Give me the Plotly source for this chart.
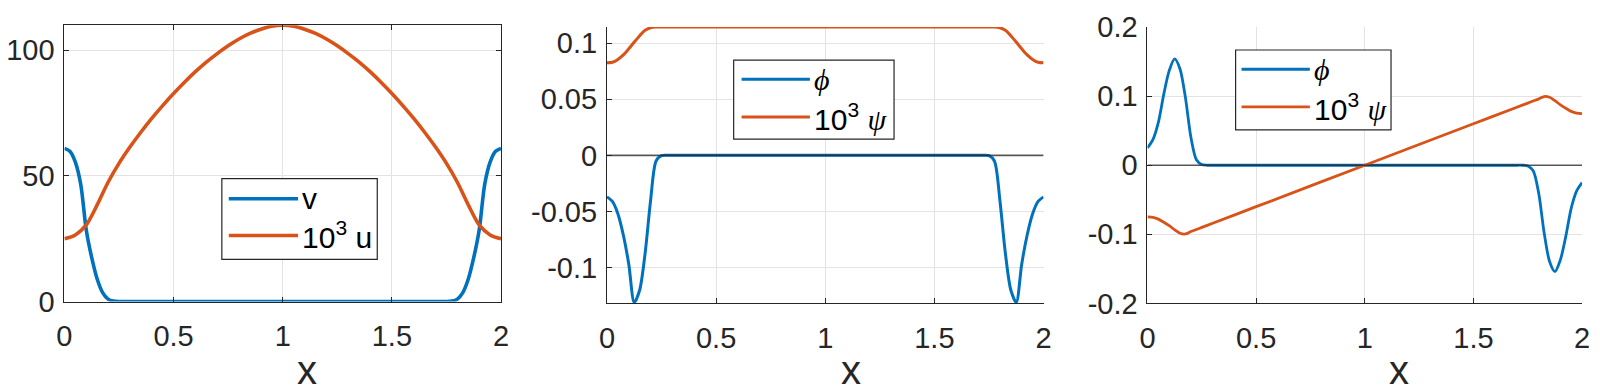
import plotly.graph_objects as go

W, H = 1600, 392

# ---------------- data ----------------
x_ticks = [0, 0.5, 1, 1.5, 2]
x_tick_labels = ["0", "0.5", "1", "1.5", "2"]

# panel 1 : v
x1v = [0, 0.025, 0.05, 0.075, 0.1, 0.125, 0.15, 0.175, 0.2, 0.225, 0.25, 0.275, 0.3,
       0.5, 1.0, 1.5,
       1.7, 1.725, 1.75, 1.775, 1.8, 1.825, 1.85, 1.875, 1.9, 1.925, 1.95, 1.975, 2.0]
v1 = [61, 59.8, 55.5, 46.5, 28.5, 17.5, 9, 3.6, 1.0, 0.2, 0, 0, 0,
      0, 0, 0,
      0, 0, 0, 0.2, 1.0, 3.6, 9, 17.5, 28.5, 46.5, 55.5, 59.8, 61]
# panel 1 : 10^3 u
x1u = [0, 0.05, 0.1, 0.15, 0.2, 0.25, 0.3, 0.35, 0.4, 0.45, 0.5, 0.55, 0.6, 0.65, 0.7,
       0.75, 0.8, 0.85, 0.9, 0.95, 1.0, 1.05, 1.1, 1.15, 1.2, 1.25, 1.3, 1.35, 1.4, 1.45,
       1.5, 1.55, 1.6, 1.65, 1.7, 1.75, 1.8, 1.85, 1.9, 1.95, 2.0]
u1 = [25, 26.5, 30.5, 38.5, 47.5, 55, 61.5, 67.4, 72.9, 78.0, 82.8, 87.3, 91.5, 95.3, 98.7,
      101.8, 104.5, 106.7, 108.4, 109.6, 110, 109.6, 108.4, 106.7, 104.5, 101.8, 98.7, 95.3,
      91.5, 87.3, 82.8, 78.0, 72.9, 67.4, 61.5, 55, 47.5, 38.5, 30.5, 26.5, 25]
y1_ticks = [0, 50, 100]
y1_tick_labels = ["0", "50", "100"]

# panel 2
x2 = [0, 0.025, 0.05, 0.075, 0.1, 0.125, 0.15, 0.175, 0.2, 0.225, 0.25, 0.275, 0.3,
      0.5, 1.0, 1.5,
      1.7, 1.725, 1.75, 1.775, 1.8, 1.825, 1.85, 1.875, 1.9, 1.925, 1.95, 1.975, 2.0]
phi2 = [-0.037, -0.041, -0.052, -0.071, -0.097, -0.131, -0.120, -0.087, -0.040, -0.005, -0.0003, 0, 0,
        0, 0, 0,
        0, 0, -0.0003, -0.005, -0.040, -0.087, -0.120, -0.131, -0.097, -0.071, -0.052, -0.041, -0.037]
psi2 = [0.0825, 0.083, 0.0855, 0.0895, 0.095, 0.101, 0.1067, 0.1115, 0.1138, 0.1144, 0.1144, 0.1144, 0.1144,
        0.1144, 0.1144, 0.1144,
        0.1144, 0.1144, 0.1144, 0.1144, 0.1138, 0.1115, 0.1067, 0.101, 0.095, 0.0895, 0.0855, 0.083, 0.0825]
y2_ticks = [-0.1, -0.05, 0, 0.05, 0.1]
y2_tick_labels = ["-0.1", "-0.05", "0", "0.05", "0.1"]

# panel 3
x3 = [0, 0.025, 0.05, 0.075, 0.1, 0.125, 0.15, 0.175, 0.2, 0.225, 0.25, 0.275, 0.3,
      0.5, 1.0, 1.5,
      1.7, 1.725, 1.75, 1.775, 1.8, 1.825, 1.85, 1.875, 1.9, 1.925, 1.95, 1.975, 2.0]
phi3 = [0.025, 0.037, 0.062, 0.103, 0.137, 0.154, 0.139, 0.097, 0.040, 0.008, 0.001, 0, 0,
        0, 0, 0,
        0, 0, -0.001, -0.008, -0.040, -0.097, -0.139, -0.154, -0.137, -0.103, -0.062, -0.037, -0.025]
psi3 = [-0.0747, -0.0755, -0.078, -0.0825, -0.0875, -0.0935, -0.0985, -0.0995, -0.096, -0.093,
        -0.09, -0.087, -0.084,
        -0.06, 0.0, 0.06,
        0.084, 0.087, 0.09, 0.093, 0.096, 0.0995, 0.0985, 0.0935, 0.0875, 0.0825, 0.078, 0.0755, 0.0747]
y3_ticks = [-0.2, -0.1, 0, 0.1, 0.2]
y3_tick_labels = ["-0.2", "-0.1", "0", "0.1", "0.2"]

BLUE = "#0072BD"
ORANGE = "#D95319"
AX = "#262626"
GRID = "#e3e3e3"
FONT = "Liberation Sans, Arial, sans-serif"
SERIF = "Liberation Serif"

# ---------------- layout helpers (pixel -> paper) ----------------
def px(x):
    return x / W

def py(y):
    return 1 - y / H

panels = [
    dict(x0=57, x1=498, y0=10, y1=311, yr=[0, 110], yt=y1_ticks, ytl=y1_tick_labels, mirror=True),
    dict(x0=605, x1=1046, y0=12, y1=313, yr=[-0.132, 0.1144], yt=y2_ticks, ytl=y2_tick_labels, mirror=False),
    dict(x0=1151, x1=1590, y0=12, y1=313, yr=[-0.2001, 0.2001], yt=y3_ticks, ytl=y3_tick_labels, mirror=False),
]

fig = go.Figure()

series = [
    (1, x1v, v1, "v", BLUE, 3.6),
    (1, x1u, u1, "10³ u", ORANGE, 3.6),
    (2, x2, phi2, "ϕ", BLUE, 3.0),
    (2, x2, psi2, "10³ ψ", ORANGE, 3.0),
    (3, x3, phi3, "ϕ", BLUE, 2.8),
    (3, x3, psi3, "10³ ψ", ORANGE, 2.8),
]
for k, xs, ys, name, col, lw in series:
    sfx = "" if k == 1 else str(k)
    fig.add_trace(go.Scatter(
        x=xs, y=ys, mode="lines", name=name, showlegend=False,
        line=dict(color=col, width=lw, shape="spline", smoothing=0.8),
        xaxis="x" + sfx, yaxis="y" + sfx, hoverinfo="skip"))

layout = dict(
    width=W, height=H, autosize=False,
    margin=dict(l=0, r=0, t=0, b=0),
    paper_bgcolor="white", plot_bgcolor="white",
    showlegend=False,
)

for i, p in enumerate(panels, start=1):
    sfx = "" if i == 1 else str(i)
    common = dict(
        showline=True, linecolor=AX, linewidth=1,
        ticks="inside", ticklen=5, tickwidth=1, tickcolor=AX,
        showgrid=True, gridcolor=GRID, gridwidth=1, zeroline=False,
        tickfont=dict(family=FONT, size=29, color=AX),
        ticklabeloverflow="allow",
        mirror="ticks" if p["mirror"] else False,
    )
    layout["xaxis" + sfx] = dict(
        common, domain=[px(p["x0"]), px(p["x1"])], range=[0, 2],
        tickmode="array", tickvals=x_ticks, ticktext=x_tick_labels,
        anchor="y" + sfx, ticklabelstandoff=9,
    )
    layout["yaxis" + sfx] = dict(
        common, domain=[py(p["y1"]), py(p["y0"])], range=p["yr"],
        tickmode="array", tickvals=p["yt"], ticktext=p["ytl"],
        anchor="x" + sfx, ticklabelstandoff=3,
    )

fig.update_layout(**layout)

# zero reference lines in panels 2 and 3 (drawn over the data)
for sfx in ["2", "3"]:
    fig.add_shape(type="line", xref="x" + sfx, yref="y" + sfx, x0=0, x1=2, y0=0, y1=0,
                  line=dict(color="rgba(38,38,38,0.75)", width=1.6), layer="above")

# x axis titles
for cx in [302, 852, 1405]:
    fig.add_annotation(xref="paper", yref="paper", x=px(cx), y=-18 / H, text="x",
                       showarrow=False, xanchor="center", yanchor="bottom", borderpad=0,
                       font=dict(family=FONT, size=40, color=AX))

# legends (drawn boxes)
PSI = "10<sup>3</sup> <span style='font-family:Liberation Serif'><i>ψ</i></span>"
legends = [
    dict(box=(216, 177, 373, 265), rows=[(199, BLUE, "v", 3.6), (239, ORANGE, "10<sup>3</sup> u", 3.6)],
         lx=(223, 293), tx=295),
    dict(box=(733, 48, 895, 134), rows=[(69, BLUE, "<i>ϕ</i>", 3.0), (110, ORANGE, PSI, 3.0)],
         lx=(741, 810), tx=812),
    dict(box=(1240, 37, 1397, 124), rows=[(58, BLUE, "<i>ϕ</i>", 2.8), (99, ORANGE, PSI, 2.8)],
         lx=(1246, 1315), tx=1317),
]
for lg in legends:
    bx0, by0, bx1, by1 = lg["box"]
    fig.add_shape(type="rect", xref="paper", yref="paper", x0=px(bx0), x1=px(bx1),
                  y0=py(by1), y1=py(by0), line=dict(color=AX, width=1.2), fillcolor="white", layer="above")
    for ry, col, txt, lw in lg["rows"]:
        fig.add_shape(type="line", xref="paper", yref="paper", x0=px(lg["lx"][0]), x1=px(lg["lx"][1]),
                      y0=py(ry), y1=py(ry), line=dict(color=col, width=lw), layer="above")
        fam = SERIF if txt.startswith("<i>") else FONT
        fig.add_annotation(xref="paper", yref="paper", x=px(lg["tx"]), y=py(ry), text=txt,
                           showarrow=False, xanchor="left", yanchor="middle",
                           font=dict(family=fam, size=30, color="#000000"))

fig.write_html("out.html")
